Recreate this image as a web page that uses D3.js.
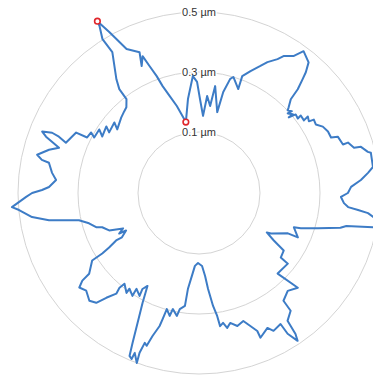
<!DOCTYPE html>
<html><head><meta charset="utf-8">
<script src="https://cdn.jsdelivr.net/npm/d3@7"></script>
<style>html,body{margin:0;padding:0;background:#fff;overflow:hidden}</style>
</head><body>
<svg id="c" width="373" height="376"></svg>
<script>
// angle in degrees clockwise from top (unwrapped), radius in µm
const angles = [349.5,353.3,357.0,359.0,360.6,363.0,364.8,367.3,368.6,372.7,373.5,375.3,376.5,380.7,380.3,382.9,385.8,387.6,390.4,391.7,394.6,396.4,400.0,401.5,402.3,403.6,404.4,406.3,407.0,408.6,408.1,410.0,409.9,410.9,413.0,412.7,415.3,414.9,416.9,417.4,419.6,421.8,424.5,427.2,427.9,431.4,431.3,433.7,434.1,436.3,436.8,441.5,443.2,445.4,447.7,450.0,451.6,454.0,455.4,456.1,456.8,457.9,459.0,461.1,462.6,463.8,466.5,469.1,469.9,474.2,474.4,479.4,480.2,482.4,484.2,488.3,488.5,495.7,493.8,497.8,501.9,502.1,505.3,505.6,506.3,507.8,508.1,511.6,513.1,517.0,517.1,518.9,520.9,523.9,526.5,528.2,529.5,531.0,531.6,532.9,534.6,535.8,537.6,540.8,543.2,544.9,546.6,547.1,549.4,550.2,552.7,553.4,555.5,556.1,556.5,558.0,558.9,559.9,560.4,560.1,561.9,562.1,563.1,563.9,565.3,567.2,569.0,570.5,570.0,573.1,572.9,576.0,576.0,579.4,580.0,579.4,581.5,583.1,585.5,589.1,591.7,593.1,593.7,597.7,598.0,598.8,600.2,600.1,602.8,603.1,605.0,607.4,610.5,611.6,614.6,617.2,619.0,619.7,621.8,624.6,625.7,628.7,630.0,631.1,632.3,635.2,637.8,641.4,641.9,643.3,646.1,647.9,650.2,651.4,652.3,651.9,650.7,656.2,656.4,659.3,657.9,662.5,660.3,665.7,664.0,669.8,667.9,674.2,677.6,679.7,682.3,682.5,684.0,688.4,687.9,689.2,689.4,690.9,693.3,697.1,695.7,697.6,698.7,700.1,701.2,703.2,705.7];
const values = [0.137,0.212,0.287,0.267,0.210,0.154,0.221,0.189,0.257,0.173,0.243,0.291,0.300,0.267,0.312,0.338,0.367,0.389,0.414,0.433,0.451,0.484,0.465,0.434,0.410,0.374,0.334,0.310,0.301,0.309,0.294,0.305,0.288,0.312,0.309,0.323,0.322,0.340,0.334,0.351,0.348,0.365,0.373,0.374,0.396,0.403,0.421,0.435,0.458,0.476,0.485,0.483,0.464,0.438,0.404,0.393,0.370,0.381,0.396,0.430,0.464,0.485,0.518,0.491,0.400,0.382,0.310,0.256,0.233,0.258,0.222,0.172,0.158,0.192,0.238,0.244,0.275,0.272,0.353,0.337,0.353,0.394,0.415,0.466,0.489,0.451,0.411,0.419,0.401,0.421,0.396,0.372,0.348,0.358,0.342,0.356,0.337,0.346,0.311,0.276,0.218,0.174,0.140,0.130,0.140,0.174,0.219,0.276,0.289,0.313,0.293,0.318,0.298,0.334,0.359,0.398,0.435,0.428,0.465,0.500,0.471,0.494,0.487,0.443,0.376,0.308,0.251,0.268,0.293,0.278,0.305,0.291,0.308,0.288,0.309,0.331,0.363,0.398,0.409,0.394,0.405,0.383,0.351,0.318,0.277,0.247,0.215,0.193,0.170,0.195,0.176,0.221,0.239,0.258,0.277,0.307,0.372,0.405,0.459,0.499,0.522,0.473,0.453,0.420,0.397,0.375,0.391,0.407,0.432,0.451,0.417,0.387,0.440,0.458,0.426,0.400,0.371,0.353,0.313,0.309,0.292,0.291,0.270,0.277,0.258,0.264,0.242,0.258,0.266,0.271,0.292,0.333,0.365,0.448,0.502,0.544,0.562,0.510,0.434,0.406,0.361,0.390,0.351,0.311,0.273,0.234,0.196];
const gridValues = [0.1, 0.3, 0.5];
const gridLabels = ["0.1 µm", "0.3 µm", "0.5 µm"];
const startIndex = 0; // marked start/minimum point

const svg = d3.select("#c");
const cx = 199, cy = 193;
const r = d3.scaleLinear().domain([0.1, 0.5]).range([61, 181]);
const g = svg.append("g").attr("transform", `translate(${cx},${cy})`);

g.selectAll("circle.grid").data(gridValues).enter().append("circle")
  .attr("class","grid").attr("r", d => r(d))
  .attr("fill","none").attr("stroke","#d4d4d4").attr("stroke-width",1);

g.selectAll("text.lab").data(gridValues).enter().append("text")
  .attr("class","lab")
  .attr("x", 0).attr("y", d => -r(d))
  .attr("dy","0.35em")
  .attr("text-anchor","middle")
  .attr("font-family","Liberation Sans, Arial, sans-serif")
  .attr("font-size", 11)
  .attr("fill","#333")
  .attr("stroke","#fff").attr("stroke-width",3).attr("paint-order","stroke")
  .text((d,i) => gridLabels[i]);

const pts = angles.map((a,i) => [a*Math.PI/180, values[i]]);
const line = d3.lineRadial().angle(d => d[0]).radius(d => r(d[1])).curve(d3.curveLinearClosed);
g.append("path").attr("d", line(pts)).attr("fill","none")
  .attr("stroke","#3d7cc6").attr("stroke-width",2).attr("stroke-linejoin","round");

const marks = [d3.maxIndex(values), startIndex];
g.selectAll("circle.mk").data(marks).enter().append("circle")
  .attr("class","mk")
  .attr("cx", i => r(values[i]) * Math.sin(angles[i]*Math.PI/180))
  .attr("cy", i => -r(values[i]) * Math.cos(angles[i]*Math.PI/180))
  .attr("r", 2.8).attr("fill","#fff").attr("stroke","#e0262b").attr("stroke-width",1.6);
</script>
</body></html>
